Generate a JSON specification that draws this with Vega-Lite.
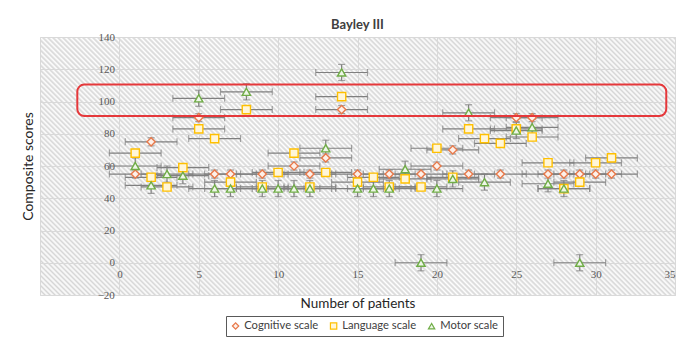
{
  "$schema": "https://vega.github.io/schema/vega-lite/v6.json",
  "width": 635,
  "height": 258,
  "autosize": {"type": "none"},
  "padding": {"left": 40, "top": 37, "right": 25, "bottom": 67},
  "background": "white",
  "title": {"text": "Bayley III", "font": "Lato", "fontSize": 13, "fontWeight": "bold", "color": "#404040", "offset": -1},
  "view": {
    "stroke": "#d9d9d9",
    "fill": {
      "gradient": "linear", "x1": 0, "y1": 1, "x2": 1.35345, "y2": 0.45008,
      "stops": [
        {"offset":0,"color":"#d6d6d6"},{"offset":0.0025,"color":"#fff"},{"offset":0.005,"color":"#d6d6d6"},{"offset":0.0075,"color":"#fff"},
        {"offset":0.01,"color":"#d6d6d6"},{"offset":0.0125,"color":"#fff"},{"offset":0.015,"color":"#d6d6d6"},{"offset":0.0175,"color":"#fff"},
        {"offset":0.02,"color":"#d6d6d6"},{"offset":0.0225,"color":"#fff"},{"offset":0.025,"color":"#d6d6d6"},{"offset":0.0275,"color":"#fff"},
        {"offset":0.03,"color":"#d6d6d6"},{"offset":0.0325,"color":"#fff"},{"offset":0.035,"color":"#d6d6d6"},{"offset":0.0375,"color":"#fff"},
        {"offset":0.04,"color":"#d6d6d6"},{"offset":0.0425,"color":"#fff"},{"offset":0.045,"color":"#d6d6d6"},{"offset":0.0475,"color":"#fff"},
        {"offset":0.05,"color":"#d6d6d6"},{"offset":0.0525,"color":"#fff"},{"offset":0.055,"color":"#d6d6d6"},{"offset":0.0575,"color":"#fff"},
        {"offset":0.06,"color":"#d6d6d6"},{"offset":0.0625,"color":"#fff"},{"offset":0.065,"color":"#d6d6d6"},{"offset":0.0675,"color":"#fff"},
        {"offset":0.07,"color":"#d6d6d6"},{"offset":0.0725,"color":"#fff"},{"offset":0.075,"color":"#d6d6d6"},{"offset":0.0775,"color":"#fff"},
        {"offset":0.08,"color":"#d6d6d6"},{"offset":0.0825,"color":"#fff"},{"offset":0.085,"color":"#d6d6d6"},{"offset":0.0875,"color":"#fff"},
        {"offset":0.09,"color":"#d6d6d6"},{"offset":0.0925,"color":"#fff"},{"offset":0.095,"color":"#d6d6d6"},{"offset":0.0975,"color":"#fff"},
        {"offset":0.1,"color":"#d6d6d6"},{"offset":0.1025,"color":"#fff"},{"offset":0.105,"color":"#d6d6d6"},{"offset":0.1075,"color":"#fff"},
        {"offset":0.11,"color":"#d6d6d6"},{"offset":0.1125,"color":"#fff"},{"offset":0.115,"color":"#d6d6d6"},{"offset":0.1175,"color":"#fff"},
        {"offset":0.12,"color":"#d6d6d6"},{"offset":0.1225,"color":"#fff"},{"offset":0.125,"color":"#d6d6d6"},{"offset":0.1275,"color":"#fff"},
        {"offset":0.13,"color":"#d6d6d6"},{"offset":0.1325,"color":"#fff"},{"offset":0.135,"color":"#d6d6d6"},{"offset":0.1375,"color":"#fff"},
        {"offset":0.14,"color":"#d6d6d6"},{"offset":0.1425,"color":"#fff"},{"offset":0.145,"color":"#d6d6d6"},{"offset":0.1475,"color":"#fff"},
        {"offset":0.15,"color":"#d6d6d6"},{"offset":0.1525,"color":"#fff"},{"offset":0.155,"color":"#d6d6d6"},{"offset":0.1575,"color":"#fff"},
        {"offset":0.16,"color":"#d6d6d6"},{"offset":0.1625,"color":"#fff"},{"offset":0.165,"color":"#d6d6d6"},{"offset":0.1675,"color":"#fff"},
        {"offset":0.17,"color":"#d6d6d6"},{"offset":0.1725,"color":"#fff"},{"offset":0.175,"color":"#d6d6d6"},{"offset":0.1775,"color":"#fff"},
        {"offset":0.18,"color":"#d6d6d6"},{"offset":0.1825,"color":"#fff"},{"offset":0.185,"color":"#d6d6d6"},{"offset":0.1875,"color":"#fff"},
        {"offset":0.19,"color":"#d6d6d6"},{"offset":0.1925,"color":"#fff"},{"offset":0.195,"color":"#d6d6d6"},{"offset":0.1975,"color":"#fff"},
        {"offset":0.2,"color":"#d6d6d6"},{"offset":0.2025,"color":"#fff"},{"offset":0.205,"color":"#d6d6d6"},{"offset":0.2075,"color":"#fff"},
        {"offset":0.21,"color":"#d6d6d6"},{"offset":0.2125,"color":"#fff"},{"offset":0.215,"color":"#d6d6d6"},{"offset":0.2175,"color":"#fff"},
        {"offset":0.22,"color":"#d6d6d6"},{"offset":0.2225,"color":"#fff"},{"offset":0.225,"color":"#d6d6d6"},{"offset":0.2275,"color":"#fff"},
        {"offset":0.23,"color":"#d6d6d6"},{"offset":0.2325,"color":"#fff"},{"offset":0.235,"color":"#d6d6d6"},{"offset":0.2375,"color":"#fff"},
        {"offset":0.24,"color":"#d6d6d6"},{"offset":0.2425,"color":"#fff"},{"offset":0.245,"color":"#d6d6d6"},{"offset":0.2475,"color":"#fff"},
        {"offset":0.25,"color":"#d6d6d6"},{"offset":0.2525,"color":"#fff"},{"offset":0.255,"color":"#d6d6d6"},{"offset":0.2575,"color":"#fff"},
        {"offset":0.26,"color":"#d6d6d6"},{"offset":0.2625,"color":"#fff"},{"offset":0.265,"color":"#d6d6d6"},{"offset":0.2675,"color":"#fff"},
        {"offset":0.27,"color":"#d6d6d6"},{"offset":0.2725,"color":"#fff"},{"offset":0.275,"color":"#d6d6d6"},{"offset":0.2775,"color":"#fff"},
        {"offset":0.28,"color":"#d6d6d6"},{"offset":0.2825,"color":"#fff"},{"offset":0.285,"color":"#d6d6d6"},{"offset":0.2875,"color":"#fff"},
        {"offset":0.29,"color":"#d6d6d6"},{"offset":0.2925,"color":"#fff"},{"offset":0.295,"color":"#d6d6d6"},{"offset":0.2975,"color":"#fff"},
        {"offset":0.3,"color":"#d6d6d6"},{"offset":0.3025,"color":"#fff"},{"offset":0.305,"color":"#d6d6d6"},{"offset":0.3075,"color":"#fff"},
        {"offset":0.31,"color":"#d6d6d6"},{"offset":0.3125,"color":"#fff"},{"offset":0.315,"color":"#d6d6d6"},{"offset":0.3175,"color":"#fff"},
        {"offset":0.32,"color":"#d6d6d6"},{"offset":0.3225,"color":"#fff"},{"offset":0.325,"color":"#d6d6d6"},{"offset":0.3275,"color":"#fff"},
        {"offset":0.33,"color":"#d6d6d6"},{"offset":0.3325,"color":"#fff"},{"offset":0.335,"color":"#d6d6d6"},{"offset":0.3375,"color":"#fff"},
        {"offset":0.34,"color":"#d6d6d6"},{"offset":0.3425,"color":"#fff"},{"offset":0.345,"color":"#d6d6d6"},{"offset":0.3475,"color":"#fff"},
        {"offset":0.35,"color":"#d6d6d6"},{"offset":0.3525,"color":"#fff"},{"offset":0.355,"color":"#d6d6d6"},{"offset":0.3575,"color":"#fff"},
        {"offset":0.36,"color":"#d6d6d6"},{"offset":0.3625,"color":"#fff"},{"offset":0.365,"color":"#d6d6d6"},{"offset":0.3675,"color":"#fff"},
        {"offset":0.37,"color":"#d6d6d6"},{"offset":0.3725,"color":"#fff"},{"offset":0.375,"color":"#d6d6d6"},{"offset":0.3775,"color":"#fff"},
        {"offset":0.38,"color":"#d6d6d6"},{"offset":0.3825,"color":"#fff"},{"offset":0.385,"color":"#d6d6d6"},{"offset":0.3875,"color":"#fff"},
        {"offset":0.39,"color":"#d6d6d6"},{"offset":0.3925,"color":"#fff"},{"offset":0.395,"color":"#d6d6d6"},{"offset":0.3975,"color":"#fff"},
        {"offset":0.4,"color":"#d6d6d6"},{"offset":0.4025,"color":"#fff"},{"offset":0.405,"color":"#d6d6d6"},{"offset":0.4075,"color":"#fff"},
        {"offset":0.41,"color":"#d6d6d6"},{"offset":0.4125,"color":"#fff"},{"offset":0.415,"color":"#d6d6d6"},{"offset":0.4175,"color":"#fff"},
        {"offset":0.42,"color":"#d6d6d6"},{"offset":0.4225,"color":"#fff"},{"offset":0.425,"color":"#d6d6d6"},{"offset":0.4275,"color":"#fff"},
        {"offset":0.43,"color":"#d6d6d6"},{"offset":0.4325,"color":"#fff"},{"offset":0.435,"color":"#d6d6d6"},{"offset":0.4375,"color":"#fff"},
        {"offset":0.44,"color":"#d6d6d6"},{"offset":0.4425,"color":"#fff"},{"offset":0.445,"color":"#d6d6d6"},{"offset":0.4475,"color":"#fff"},
        {"offset":0.45,"color":"#d6d6d6"},{"offset":0.4525,"color":"#fff"},{"offset":0.455,"color":"#d6d6d6"},{"offset":0.4575,"color":"#fff"},
        {"offset":0.46,"color":"#d6d6d6"},{"offset":0.4625,"color":"#fff"},{"offset":0.465,"color":"#d6d6d6"},{"offset":0.4675,"color":"#fff"},
        {"offset":0.47,"color":"#d6d6d6"},{"offset":0.4725,"color":"#fff"},{"offset":0.475,"color":"#d6d6d6"},{"offset":0.4775,"color":"#fff"},
        {"offset":0.48,"color":"#d6d6d6"},{"offset":0.4825,"color":"#fff"},{"offset":0.485,"color":"#d6d6d6"},{"offset":0.4875,"color":"#fff"},
        {"offset":0.49,"color":"#d6d6d6"},{"offset":0.4925,"color":"#fff"},{"offset":0.495,"color":"#d6d6d6"},{"offset":0.4975,"color":"#fff"},
        {"offset":0.5,"color":"#d6d6d6"},{"offset":0.5025,"color":"#fff"},{"offset":0.505,"color":"#d6d6d6"},{"offset":0.5075,"color":"#fff"},
        {"offset":0.51,"color":"#d6d6d6"},{"offset":0.5125,"color":"#fff"},{"offset":0.515,"color":"#d6d6d6"},{"offset":0.5175,"color":"#fff"},
        {"offset":0.52,"color":"#d6d6d6"},{"offset":0.5225,"color":"#fff"},{"offset":0.525,"color":"#d6d6d6"},{"offset":0.5275,"color":"#fff"},
        {"offset":0.53,"color":"#d6d6d6"},{"offset":0.5325,"color":"#fff"},{"offset":0.535,"color":"#d6d6d6"},{"offset":0.5375,"color":"#fff"},
        {"offset":0.54,"color":"#d6d6d6"},{"offset":0.5425,"color":"#fff"},{"offset":0.545,"color":"#d6d6d6"},{"offset":0.5475,"color":"#fff"},
        {"offset":0.55,"color":"#d6d6d6"},{"offset":0.5525,"color":"#fff"},{"offset":0.555,"color":"#d6d6d6"},{"offset":0.5575,"color":"#fff"},
        {"offset":0.56,"color":"#d6d6d6"},{"offset":0.5625,"color":"#fff"},{"offset":0.565,"color":"#d6d6d6"},{"offset":0.5675,"color":"#fff"},
        {"offset":0.57,"color":"#d6d6d6"},{"offset":0.5725,"color":"#fff"},{"offset":0.575,"color":"#d6d6d6"},{"offset":0.5775,"color":"#fff"},
        {"offset":0.58,"color":"#d6d6d6"},{"offset":0.5825,"color":"#fff"},{"offset":0.585,"color":"#d6d6d6"},{"offset":0.5875,"color":"#fff"},
        {"offset":0.59,"color":"#d6d6d6"},{"offset":0.5925,"color":"#fff"},{"offset":0.595,"color":"#d6d6d6"},{"offset":0.5975,"color":"#fff"},
        {"offset":0.6,"color":"#d6d6d6"},{"offset":0.6025,"color":"#fff"},{"offset":0.605,"color":"#d6d6d6"},{"offset":0.6075,"color":"#fff"},
        {"offset":0.61,"color":"#d6d6d6"},{"offset":0.6125,"color":"#fff"},{"offset":0.615,"color":"#d6d6d6"},{"offset":0.6175,"color":"#fff"},
        {"offset":0.62,"color":"#d6d6d6"},{"offset":0.6225,"color":"#fff"},{"offset":0.625,"color":"#d6d6d6"},{"offset":0.6275,"color":"#fff"},
        {"offset":0.63,"color":"#d6d6d6"},{"offset":0.6325,"color":"#fff"},{"offset":0.635,"color":"#d6d6d6"},{"offset":0.6375,"color":"#fff"},
        {"offset":0.64,"color":"#d6d6d6"},{"offset":0.6425,"color":"#fff"},{"offset":0.645,"color":"#d6d6d6"},{"offset":0.6475,"color":"#fff"},
        {"offset":0.65,"color":"#d6d6d6"},{"offset":0.6525,"color":"#fff"},{"offset":0.655,"color":"#d6d6d6"},{"offset":0.6575,"color":"#fff"},
        {"offset":0.66,"color":"#d6d6d6"},{"offset":0.6625,"color":"#fff"},{"offset":0.665,"color":"#d6d6d6"},{"offset":0.6675,"color":"#fff"},
        {"offset":0.67,"color":"#d6d6d6"},{"offset":0.6725,"color":"#fff"},{"offset":0.675,"color":"#d6d6d6"},{"offset":0.6775,"color":"#fff"},
        {"offset":0.68,"color":"#d6d6d6"},{"offset":0.6825,"color":"#fff"},{"offset":0.685,"color":"#d6d6d6"},{"offset":0.6875,"color":"#fff"},
        {"offset":0.69,"color":"#d6d6d6"},{"offset":0.6925,"color":"#fff"},{"offset":0.695,"color":"#d6d6d6"},{"offset":0.6975,"color":"#fff"},
        {"offset":0.7,"color":"#d6d6d6"},{"offset":0.7025,"color":"#fff"},{"offset":0.705,"color":"#d6d6d6"},{"offset":0.7075,"color":"#fff"},
        {"offset":0.71,"color":"#d6d6d6"},{"offset":0.7125,"color":"#fff"},{"offset":0.715,"color":"#d6d6d6"},{"offset":0.7175,"color":"#fff"},
        {"offset":0.72,"color":"#d6d6d6"},{"offset":0.7225,"color":"#fff"},{"offset":0.725,"color":"#d6d6d6"},{"offset":0.7275,"color":"#fff"},
        {"offset":0.73,"color":"#d6d6d6"},{"offset":0.7325,"color":"#fff"},{"offset":0.735,"color":"#d6d6d6"},{"offset":0.7375,"color":"#fff"},
        {"offset":0.74,"color":"#d6d6d6"},{"offset":0.7425,"color":"#fff"},{"offset":0.745,"color":"#d6d6d6"},{"offset":0.7475,"color":"#fff"},
        {"offset":0.75,"color":"#d6d6d6"},{"offset":0.7525,"color":"#fff"},{"offset":0.755,"color":"#d6d6d6"},{"offset":0.7575,"color":"#fff"},
        {"offset":0.76,"color":"#d6d6d6"},{"offset":0.7625,"color":"#fff"},{"offset":0.765,"color":"#d6d6d6"},{"offset":0.7675,"color":"#fff"},
        {"offset":0.77,"color":"#d6d6d6"},{"offset":0.7725,"color":"#fff"},{"offset":0.775,"color":"#d6d6d6"},{"offset":0.7775,"color":"#fff"},
        {"offset":0.78,"color":"#d6d6d6"},{"offset":0.7825,"color":"#fff"},{"offset":0.785,"color":"#d6d6d6"},{"offset":0.7875,"color":"#fff"},
        {"offset":0.79,"color":"#d6d6d6"},{"offset":0.7925,"color":"#fff"},{"offset":0.795,"color":"#d6d6d6"},{"offset":0.7975,"color":"#fff"},
        {"offset":0.8,"color":"#d6d6d6"},{"offset":0.8025,"color":"#fff"},{"offset":0.805,"color":"#d6d6d6"},{"offset":0.8075,"color":"#fff"},
        {"offset":0.81,"color":"#d6d6d6"},{"offset":0.8125,"color":"#fff"},{"offset":0.815,"color":"#d6d6d6"},{"offset":0.8175,"color":"#fff"},
        {"offset":0.82,"color":"#d6d6d6"},{"offset":0.8225,"color":"#fff"},{"offset":0.825,"color":"#d6d6d6"},{"offset":0.8275,"color":"#fff"},
        {"offset":0.83,"color":"#d6d6d6"},{"offset":0.8325,"color":"#fff"},{"offset":0.835,"color":"#d6d6d6"},{"offset":0.8375,"color":"#fff"},
        {"offset":0.84,"color":"#d6d6d6"},{"offset":0.8425,"color":"#fff"},{"offset":0.845,"color":"#d6d6d6"},{"offset":0.8475,"color":"#fff"},
        {"offset":0.85,"color":"#d6d6d6"},{"offset":0.8525,"color":"#fff"},{"offset":0.855,"color":"#d6d6d6"},{"offset":0.8575,"color":"#fff"},
        {"offset":0.86,"color":"#d6d6d6"},{"offset":0.8625,"color":"#fff"},{"offset":0.865,"color":"#d6d6d6"},{"offset":0.8675,"color":"#fff"},
        {"offset":0.87,"color":"#d6d6d6"},{"offset":0.8725,"color":"#fff"},{"offset":0.875,"color":"#d6d6d6"},{"offset":0.8775,"color":"#fff"},
        {"offset":0.88,"color":"#d6d6d6"},{"offset":0.8825,"color":"#fff"},{"offset":0.885,"color":"#d6d6d6"},{"offset":0.8875,"color":"#fff"},
        {"offset":0.89,"color":"#d6d6d6"},{"offset":0.8925,"color":"#fff"},{"offset":0.895,"color":"#d6d6d6"},{"offset":0.8975,"color":"#fff"},
        {"offset":0.9,"color":"#d6d6d6"},{"offset":0.9025,"color":"#fff"},{"offset":0.905,"color":"#d6d6d6"},{"offset":0.9075,"color":"#fff"},
        {"offset":0.91,"color":"#d6d6d6"},{"offset":0.9125,"color":"#fff"},{"offset":0.915,"color":"#d6d6d6"},{"offset":0.9175,"color":"#fff"},
        {"offset":0.92,"color":"#d6d6d6"},{"offset":0.9225,"color":"#fff"},{"offset":0.925,"color":"#d6d6d6"},{"offset":0.9275,"color":"#fff"},
        {"offset":0.93,"color":"#d6d6d6"},{"offset":0.9325,"color":"#fff"},{"offset":0.935,"color":"#d6d6d6"},{"offset":0.9375,"color":"#fff"},
        {"offset":0.94,"color":"#d6d6d6"},{"offset":0.9425,"color":"#fff"},{"offset":0.945,"color":"#d6d6d6"},{"offset":0.9475,"color":"#fff"},
        {"offset":0.95,"color":"#d6d6d6"},{"offset":0.9525,"color":"#fff"},{"offset":0.955,"color":"#d6d6d6"},{"offset":0.9575,"color":"#fff"},
        {"offset":0.96,"color":"#d6d6d6"},{"offset":0.9625,"color":"#fff"},{"offset":0.965,"color":"#d6d6d6"},{"offset":0.9675,"color":"#fff"},
        {"offset":0.97,"color":"#d6d6d6"},{"offset":0.9725,"color":"#fff"},{"offset":0.975,"color":"#d6d6d6"},{"offset":0.9775,"color":"#fff"},
        {"offset":0.98,"color":"#d6d6d6"},{"offset":0.9825,"color":"#fff"},{"offset":0.985,"color":"#d6d6d6"},{"offset":0.9875,"color":"#fff"},
        {"offset":0.99,"color":"#d6d6d6"},{"offset":0.9925,"color":"#fff"},{"offset":0.995,"color":"#d6d6d6"},{"offset":0.9975,"color":"#fff"},
        {"offset":1,"color":"#d6d6d6"}
      ]
    }
  },
  "datasets": {
    "pts": [
      {"p": 1, "v": 55, "s": "Cognitive scale", "ex": 1.63, "ey": 2.5},
      {"p": 2, "v": 75, "s": "Cognitive scale", "ex": 1.63, "ey": 2.5},
      {"p": 5, "v": 90, "s": "Cognitive scale", "ex": 1.63, "ey": 2.5},
      {"p": 6, "v": 55, "s": "Cognitive scale", "ex": 1.63, "ey": 2.5},
      {"p": 7, "v": 55, "s": "Cognitive scale", "ex": 1.63, "ey": 2.5},
      {"p": 9, "v": 55, "s": "Cognitive scale", "ex": 1.63, "ey": 2.5},
      {"p": 11, "v": 60, "s": "Cognitive scale", "ex": 1.63, "ey": 2.5},
      {"p": 12, "v": 55, "s": "Cognitive scale", "ex": 1.63, "ey": 2.5},
      {"p": 13, "v": 65, "s": "Cognitive scale", "ex": 1.63, "ey": 2.5},
      {"p": 14, "v": 95, "s": "Cognitive scale", "ex": 1.63, "ey": 2.5},
      {"p": 15, "v": 55, "s": "Cognitive scale", "ex": 1.63, "ey": 2.5},
      {"p": 17, "v": 55, "s": "Cognitive scale", "ex": 1.63, "ey": 2.5},
      {"p": 19, "v": 55, "s": "Cognitive scale", "ex": 1.63, "ey": 2.5},
      {"p": 20, "v": 60, "s": "Cognitive scale", "ex": 1.63, "ey": 2.5},
      {"p": 21, "v": 70, "s": "Cognitive scale", "ex": 1.63, "ey": 2.5},
      {"p": 22, "v": 55, "s": "Cognitive scale", "ex": 1.63, "ey": 2.5},
      {"p": 24, "v": 55, "s": "Cognitive scale", "ex": 1.63, "ey": 2.5},
      {"p": 25, "v": 90, "s": "Cognitive scale", "ex": 1.63, "ey": 2.5},
      {"p": 26, "v": 90, "s": "Cognitive scale", "ex": 1.63, "ey": 2.5},
      {"p": 27, "v": 55, "s": "Cognitive scale", "ex": 1.63, "ey": 2.5},
      {"p": 28, "v": 55, "s": "Cognitive scale", "ex": 1.63, "ey": 2.5},
      {"p": 29, "v": 55, "s": "Cognitive scale", "ex": 1.63, "ey": 2.5},
      {"p": 30, "v": 55, "s": "Cognitive scale", "ex": 1.63, "ey": 2.5},
      {"p": 31, "v": 55, "s": "Cognitive scale", "ex": 1.63, "ey": 2.5},
      {"p": 1, "v": 68, "s": "Language scale", "ex": 1.63, "ey": 2},
      {"p": 2, "v": 53, "s": "Language scale", "ex": 1.63, "ey": 2},
      {"p": 3, "v": 47, "s": "Language scale", "ex": 1.63, "ey": 2},
      {"p": 4, "v": 59, "s": "Language scale", "ex": 1.63, "ey": 2},
      {"p": 5, "v": 83, "s": "Language scale", "ex": 1.63, "ey": 2},
      {"p": 6, "v": 77, "s": "Language scale", "ex": 1.63, "ey": 2},
      {"p": 7, "v": 50, "s": "Language scale", "ex": 1.63, "ey": 2},
      {"p": 8, "v": 95, "s": "Language scale", "ex": 1.63, "ey": 2},
      {"p": 9, "v": 47, "s": "Language scale", "ex": 1.63, "ey": 2},
      {"p": 10, "v": 56, "s": "Language scale", "ex": 1.63, "ey": 2},
      {"p": 11, "v": 68, "s": "Language scale", "ex": 1.63, "ey": 2},
      {"p": 12, "v": 47, "s": "Language scale", "ex": 1.63, "ey": 2},
      {"p": 13, "v": 56, "s": "Language scale", "ex": 1.63, "ey": 2},
      {"p": 14, "v": 103, "s": "Language scale", "ex": 1.63, "ey": 2},
      {"p": 15, "v": 50, "s": "Language scale", "ex": 1.63, "ey": 2},
      {"p": 16, "v": 53, "s": "Language scale", "ex": 1.63, "ey": 2},
      {"p": 17, "v": 47, "s": "Language scale", "ex": 1.63, "ey": 2},
      {"p": 18, "v": 52, "s": "Language scale", "ex": 1.63, "ey": 2},
      {"p": 19, "v": 47, "s": "Language scale", "ex": 1.63, "ey": 2},
      {"p": 20, "v": 71, "s": "Language scale", "ex": 1.63, "ey": 2},
      {"p": 21, "v": 53, "s": "Language scale", "ex": 1.63, "ey": 2},
      {"p": 22, "v": 83, "s": "Language scale", "ex": 1.63, "ey": 2},
      {"p": 23, "v": 77, "s": "Language scale", "ex": 1.63, "ey": 2},
      {"p": 24, "v": 74, "s": "Language scale", "ex": 1.63, "ey": 2},
      {"p": 25, "v": 83, "s": "Language scale", "ex": 1.63, "ey": 2},
      {"p": 26, "v": 78, "s": "Language scale", "ex": 1.63, "ey": 2},
      {"p": 27, "v": 62, "s": "Language scale", "ex": 1.63, "ey": 2},
      {"p": 28, "v": 46, "s": "Language scale", "ex": 1.63, "ey": 2},
      {"p": 29, "v": 50, "s": "Language scale", "ex": 1.63, "ey": 2},
      {"p": 30, "v": 62, "s": "Language scale", "ex": 1.63, "ey": 2},
      {"p": 31, "v": 65, "s": "Language scale", "ex": 1.63, "ey": 2},
      {"p": 1, "v": 60, "s": "Motor scale", "ex": 1.63, "ey": 5},
      {"p": 2, "v": 48, "s": "Motor scale", "ex": 1.63, "ey": 5},
      {"p": 3, "v": 55, "s": "Motor scale", "ex": 1.63, "ey": 5},
      {"p": 4, "v": 54, "s": "Motor scale", "ex": 1.63, "ey": 5},
      {"p": 5, "v": 102, "s": "Motor scale", "ex": 1.63, "ey": 5},
      {"p": 6, "v": 46, "s": "Motor scale", "ex": 1.63, "ey": 5},
      {"p": 7, "v": 46, "s": "Motor scale", "ex": 1.63, "ey": 5},
      {"p": 8, "v": 106, "s": "Motor scale", "ex": 1.63, "ey": 5},
      {"p": 9, "v": 46, "s": "Motor scale", "ex": 1.63, "ey": 5},
      {"p": 10, "v": 46, "s": "Motor scale", "ex": 1.63, "ey": 5},
      {"p": 11, "v": 46, "s": "Motor scale", "ex": 1.63, "ey": 5},
      {"p": 12, "v": 46, "s": "Motor scale", "ex": 1.63, "ey": 5},
      {"p": 13, "v": 71, "s": "Motor scale", "ex": 1.63, "ey": 5},
      {"p": 14, "v": 118, "s": "Motor scale", "ex": 1.63, "ey": 5},
      {"p": 15, "v": 46, "s": "Motor scale", "ex": 1.63, "ey": 5},
      {"p": 16, "v": 46, "s": "Motor scale", "ex": 1.63, "ey": 5},
      {"p": 17, "v": 46, "s": "Motor scale", "ex": 1.63, "ey": 5},
      {"p": 18, "v": 58, "s": "Motor scale", "ex": 1.63, "ey": 5},
      {"p": 19, "v": 0, "s": "Motor scale", "ex": 1.63, "ey": 5},
      {"p": 20, "v": 46, "s": "Motor scale", "ex": 1.63, "ey": 5},
      {"p": 21, "v": 52, "s": "Motor scale", "ex": 1.63, "ey": 5},
      {"p": 22, "v": 93, "s": "Motor scale", "ex": 1.63, "ey": 5},
      {"p": 23, "v": 50, "s": "Motor scale", "ex": 1.63, "ey": 5},
      {"p": 25, "v": 82, "s": "Motor scale", "ex": 1.63, "ey": 5},
      {"p": 26, "v": 84, "s": "Motor scale", "ex": 1.63, "ey": 5},
      {"p": 27, "v": 49, "s": "Motor scale", "ex": 1.63, "ey": 5},
      {"p": 28, "v": 46, "s": "Motor scale", "ex": 1.63, "ey": 5},
      {"p": 29, "v": 0, "s": "Motor scale", "ex": 1.63, "ey": 5}
    ],
    "box": [
      {"p": -2.65, "p2": 34.45, "v": 91, "v2": 110.5}
    ]
  },
  "encoding": {
    "x": {
      "field": "p", "type": "quantitative",
      "scale": {"domain": [-5, 35], "nice": false, "zero": false},
      "axis": {
        "title": "Number of patients",
        "values": [0, 5, 10, 15, 20, 25, 30, 35],
        "offset": -32.25,
        "domain": false, "ticks": false,
        "grid": true, "gridColor": "#d9d9d9",
        "labelFont": "Liberation Serif", "labelFontSize": 11, "labelColor": "#595959", "labelPadding": 6,
        "titleFont": "Lato", "titleFontSize": 13.5, "titleFontWeight": "normal", "titleColor": "#262626",
        "titleY": 41, "titleBaseline": "middle"
      }
    },
    "y": {
      "field": "v", "type": "quantitative",
      "scale": {"domain": [-20, 140], "nice": false, "zero": false},
      "axis": {
        "title": "Composite scores",
        "values": [-20, 0, 20, 40, 60, 80, 100, 120, 140],
        "offset": -79.375,
        "domain": false, "ticks": false,
        "grid": true, "gridColor": "#d9d9d9",
        "labelFont": "Liberation Serif", "labelFontSize": 11, "labelColor": "#595959", "labelPadding": 5,
        "titleFont": "Lato", "titleFontSize": 14, "titleFontWeight": "normal", "titleColor": "#262626",
        "titleX": -91, "titleBaseline": "middle"
      }
    }
  },
  "layer": [
    {
      "data": {"name": "pts"},
      "mark": {"type": "errorbar", "ticks": {"size": 7, "color": "#7f7f7f", "thickness": 1.2}, "rule": {"color": "#7f7f7f", "strokeWidth": 1.2}},
      "encoding": {"xError": {"field": "ex"}}
    },
    {
      "data": {"name": "pts"},
      "mark": {"type": "errorbar", "ticks": {"size": 7, "color": "#7f7f7f", "thickness": 1.2}, "rule": {"color": "#7f7f7f", "strokeWidth": 1.2}},
      "encoding": {"yError": {"field": "ey"}}
    },
    {
      "data": {"name": "pts"},
      "mark": {"type": "point", "filled": true, "size": 68, "strokeWidth": 1.4, "opacity": 1},
      "encoding": {
        "shape": {"field": "s", "type": "nominal", "scale": {"domain": ["Cognitive scale", "Language scale", "Motor scale"], "range": ["diamond", "square", "triangle-up"]}, "legend": {"title": null}},
        "stroke": {"field": "s", "type": "nominal", "scale": {"domain": ["Cognitive scale", "Language scale", "Motor scale"], "range": ["#e8794a", "#ffc000", "#70ad47"]}, "legend": {"title": null}},
        "fill": {"field": "s", "type": "nominal", "scale": {"domain": ["Cognitive scale", "Language scale", "Motor scale"], "range": ["#fdf0e9", "#fff6d9", "#eef6e8"]}, "legend": {"title": null}}
      }
    },
    {
      "data": {"name": "box"},
      "mark": {"type": "rect", "cornerRadius": 7, "fillOpacity": 0, "stroke": "#e5383b", "strokeWidth": 2},
      "encoding": {"x2": {"field": "p2"}, "y2": {"field": "v2"}}
    }
  ],
  "config": {
    "legend": {
      "orient": "none", "legendX": 186, "legendY": 279, "direction": "horizontal",
      "strokeColor": "#595959", "fillColor": "white", "padding": 4,
      "labelFont": "Lato", "labelFontSize": 11.2, "labelColor": "#404040",
      "symbolSize": 40, "symbolStrokeWidth": 1.2, "columnPadding": 9, "labelOffset": 3
    }
  }
}
